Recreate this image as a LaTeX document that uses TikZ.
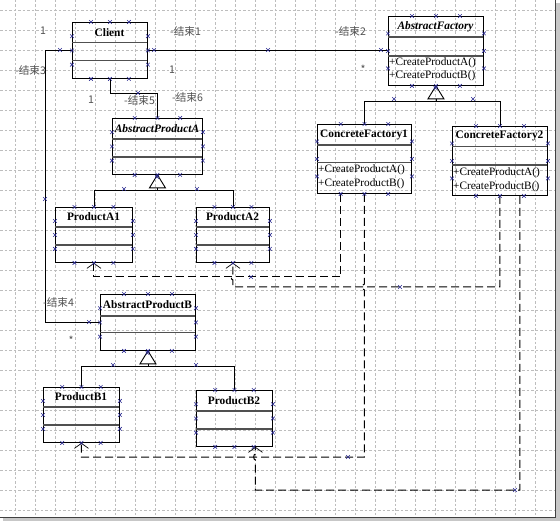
\documentclass[tikz,border=0pt]{standalone}
\usepackage{fontspec}
\setmainfont{Liberation Serif}
\newfontfamily\cjk{Noto Sans CJK SC}
\usetikzlibrary{arrows.meta,calc}
\definecolor{gridc}{HTML}{BDBDBD}
\definecolor{xcol}{HTML}{2A2A90}
\definecolor{labc}{HTML}{505050}
\definecolor{sepc}{HTML}{505050}
\tikzset{
 umlbox/.style={draw=black, line width=0.9pt, inner sep=0pt, anchor=north west},
 ttl/.style={font=\fontsize{11.4}{13}\selectfont\bfseries, inner sep=0pt},
 ttli/.style={font=\fontsize{11.4}{13}\selectfont\bfseries\itshape, inner sep=0pt},
 meth/.style={font=\fontsize{11.3}{13}\selectfont, inner sep=0pt, anchor=west},
 sepl/.style={sepc, line width=1.4pt},
 assoc/.style={black, line width=0.9pt},
 gen/.style={black, line width=0.9pt},
 dep/.style={black, line width=1pt, dash pattern=on 8pt off 4pt, -{Straight Barb[length=5pt,width=14pt,line width=0.7pt]}},
 lab/.style={labc, font=\cjk\fontsize{10.6}{12}\selectfont, inner sep=0pt},
 gridl/.style={gridc, line width=0.55pt, dash pattern=on 2.5pt off 2pt},
 xmk/.pic={\draw[xcol,line width=0.6pt] (-1.8pt,-1.8pt)--(1.8pt,1.8pt) (-1.8pt,1.8pt)--(1.8pt,-1.8pt);}
}
% name, x1, y1, x2, y2, sep1, sep2, title style, title
\newcommand\mkbox[9]{%
 \pgfmathsetmacro\bw{#4-#2}\pgfmathsetmacro\bh{#5-#3}\pgfmathsetmacro\ty{(#3+#6)/2}\pgfmathsetmacro\tx{(#2+#4)/2}%
 \node[umlbox, minimum width=\bw pt, minimum height=\bh pt] (#1) at (#2,#3) {};
 \draw[sepl] (#2,#6) -- (#4,#6);
 \draw[sepl] (#2,#7) -- (#4,#7);
 \node[#8] (#1-t) at (\tx,\ty) {#9};
}
\newcommand\genz[3]{%
 \draw[gen] (#1.south) -- ++(-8,13) -- ++(16,0) -- cycle;
 \coordinate (#1-g) at ($(#1.south)+(0,15.3)$);
 \draw[gen] ($(#1.south)+(0,13)$) -- (#1-g);
 \draw[gen] (#2.north) |- (#1-g) -| (#3.north);
}
\begin{document}
\begin{tikzpicture}[x=1pt,y=-1pt]
\useasboundingbox (0,0) rectangle (560,521);
\fill[white] (0,0) rectangle (560,521);
% grid
\foreach \x in {15,35,...,555} \draw[gridl] (\x,0) -- (\x,517);
\foreach \y in {10,30,...,510} \draw[gridl] (0,\y) -- (555,\y);
% frame and shadow
\fill[black!22] (555,3) rectangle (559.5,521);
\fill[black!22] (3,517) rectangle (559.5,521);
\draw[black!75, line width=0.8pt] (555,0) -- (555,517) -- (0,517);

% classes
\mkbox{client}{72}{22}{147}{78}{42.7}{60.7}{ttl}{Client}
\mkbox{af}{388}{16}{483}{85}{37}{56}{ttli}{AbstractFactory}
\mkbox{apa}{112}{118}{202}{174}{139}{157}{ttli}{AbstractProductA}
\mkbox{cf1}{317}{124}{411}{193}{145}{162.5}{ttl}{ConcreteFactory1}
\mkbox{cf2}{452}{126}{547}{195}{146.5}{165}{ttl}{ConcreteFactory2}
\mkbox{a1}{55}{207}{132}{262}{227}{245}{ttl}{ProductA1}
\mkbox{a2}{196}{207}{269}{262}{227}{245}{ttl}{ProductA2}
\mkbox{apb}{100}{294}{195}{350}{316}{332.5}{ttl}{AbstractProductB}
\mkbox{b1}{43}{387}{119}{442}{407}{425}{ttl}{ProductB1}
\mkbox{b2}{196}{390}{272}{446}{411}{429}{ttl}{ProductB2}

\node[meth] (af-m1) at (389,62.5) {+CreateProductA()};
\node[meth] (af-m2) at (389,76) {+CreateProductB()};
\node[meth] (cf1-m1) at (318,170) {+CreateProductA()};
\node[meth] (cf1-m2) at (318,184) {+CreateProductB()};
\node[meth] (cf2-m1) at (453,173) {+CreateProductA()};
\node[meth] (cf2-m2) at (453,187) {+CreateProductB()};

% associations
\draw[assoc] (client.east) -- (af.west |- client.east);
\draw[assoc] (client.west) -- ++(-27,0) |- (apb.west);
\draw[assoc] (client.south) -- ++(0,15) -| (apa.north);

% generalizations
\genz{af}{cf1}{cf2}
\genz{apa}{a1}{a2}
\genz{apb}{b1}{b2}

% dependencies
\coordinate (d1) at (0,277);
\coordinate (d2) at (0,287);
\coordinate (d3) at (0,457);
\coordinate (d4) at (0,490);
\coordinate (cf1q) at ($(cf1.south west)!0.25!(cf1.south east)$);
\coordinate (cf2q) at ($(cf2.south)+(20,0)$);
\coordinate (b2q) at ($(b2.south)+(21,0)$);
\draw[dep] (cf1q) -- (cf1q |- d1) -- (a1.south |- d1) -- (a1.south);
\draw[dep] (cf2.south) -- (cf2.south |- d2) -- (a2.south |- d2) -- ($(a2.south |- d1)+(0,3)$) to[bend left=90] ($(a2.south |- d1)+(0,-3)$) -- (a2.south);
\draw[dep] (cf1.south) -- ($(cf1.south |- d2)+(0,-3)$) to[bend right=90] ($(cf1.south |- d2)+(0,3)$) -- (cf1.south |- d3) -- (b1.south |- d3) -- (b1.south);
\draw[dep] (cf2q) -- (cf2q |- d4) -- (b2q |- d4) -- ($(b2q |- d3)+(0,3)$) to[bend left=90] ($(b2q |- d3)+(0,-3)$) -- (b2q);

% labels
\node[lab] (m1) at (43,31) {1};
\node[lab, anchor=west] (r1) at (170,31) {-结束1};
\node[lab] (m2) at (172,70) {1};
\node[lab, anchor=west] (r2) at (335,31) {-结束2};
\node[lab] (m3) at (363,69) {*};
\node[lab, anchor=west] (r3) at (15,70) {-结束3};
\node[lab] (m4) at (91,100) {1};
\node[lab, anchor=west] (r5) at (124,100) {-结束5};
\node[lab, anchor=west] (r6) at (172,97) {-结束6};
\node[lab, anchor=west] (r4) at (43,302) {-结束4};
\node[lab] (m5) at (71,340) {*};

% connection point markers
\foreach \b in {client,af,apa,cf1,cf2,a1,a2,apb,b1,b2}{
 \foreach \t in {0.25,0.5,0.75}{
  \pic at ($(\b.north west)!\t!(\b.north east)$) {xmk};
  \pic at ($(\b.south west)!\t!(\b.south east)$) {xmk};
  \pic at ($(\b.north west)!\t!(\b.south west)$) {xmk};
  \pic at ($(\b.north east)!\t!(\b.south east)$) {xmk};
 }}
\foreach \px/\py in {154/50,268/50,381/50,60/50,45/199,89/322,138/93,124/189,197/189,394/99,473/99,113/365,196/365,157/177,435.5/88,147.5/353,251/277,400/287,348/457,515/490}
 \pic at (\px,\py) {xmk};
\end{tikzpicture}
\end{document}
